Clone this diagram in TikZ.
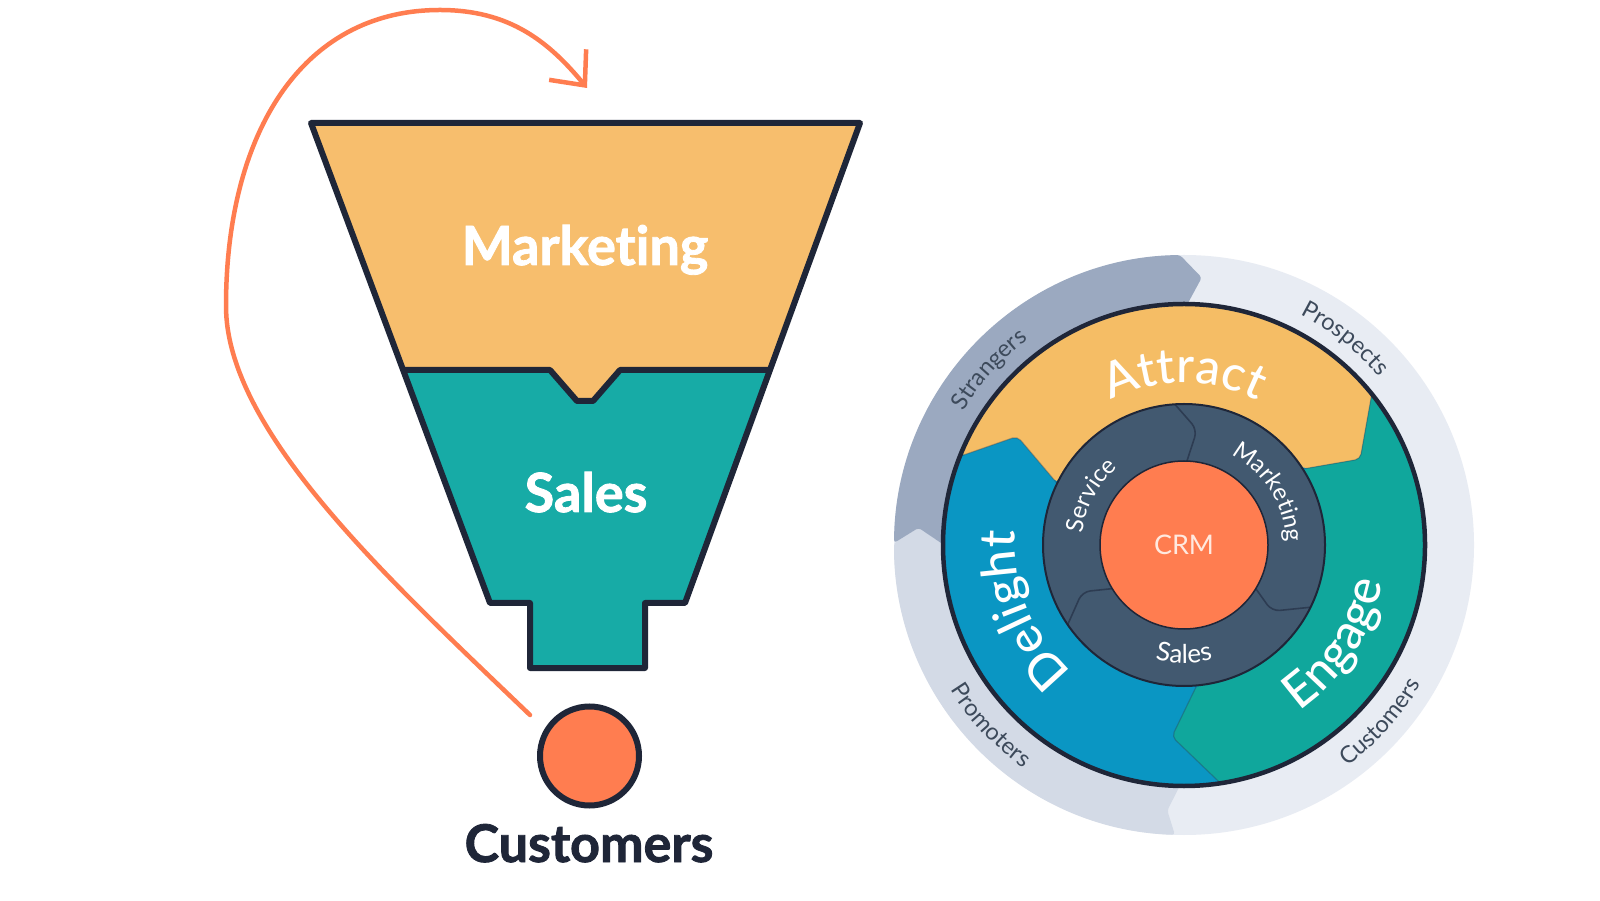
\documentclass[tikz,border=0pt]{standalone}
\usepackage{fontspec}
\setmainfont{Lato}[Ligatures=NoCommon]
\newfontfamily\HeavyFont{Lato}[Ligatures=NoCommon,BoldFeatures={FakeBold=1.6}]
\IfFontExistsTF{Lato Medium}{\newfontfamily\MedFont{Lato Medium}}{\newcommand\MedFont{\mdseries}}
\usetikzlibrary{arrows.meta,decorations.text}

\definecolor{outl}{HTML}{1F2638}
\definecolor{fyellow}{HTML}{F7BE6D}
\definecolor{fteal}{HTML}{17ABA6}
\definecolor{attractc}{HTML}{F5BD65}
\definecolor{engagec}{HTML}{10A79C}
\definecolor{delightc}{HTML}{0A96C3}
\definecolor{orangec}{HTML}{FF7D50}
\definecolor{slatec}{HTML}{425970}
\definecolor{ringdark}{HTML}{9BA9C0}
\definecolor{ringmid}{HTML}{D3DAE6}
\definecolor{ringlight}{HTML}{E8ECF3}
\definecolor{ringtext}{HTML}{3D4A5B}
\definecolor{crmtext}{HTML}{FFE9DF}
\definecolor{sepc}{HTML}{2D3C52}

\newcommand\RingFont{\fontsize{23.5}{27}\selectfont\color{ringtext}}
\newcommand\InFont{\fontsize{24}{28}\selectfont\color{white}}
\newcommand\SalesFont{\fontsize{26}{30}\selectfont\color{white}}
\newcommand\BigFont{\MedFont\fontsize{49}{55}\selectfont\color{white}}

\begin{document}
\begin{tikzpicture}[x=1pt,y=1pt,
  funnelline/.style={draw=outl,line width=6pt,line join=round},
  funtext/.style={text=white,font=\HeavyFont\bfseries\fontsize{54}{58}\selectfont,anchor=base,inner sep=0},
  arrowline/.style={draw=orangec,line width=4.5pt,line cap=round,
     -{Straight Barb[length=27pt,width=48pt]}},
  seg/.style={draw=sepc,draw opacity=0.35,line width=1.2pt,line join=round},
  inseg/.style={draw=sepc,line width=1.6pt,rounded corners=8pt}]
\useasboundingbox (0,0) rectangle (1600,900);
\fill[white] (0,0) rectangle (1600,900);

% ---------------- funnel ----------------
\fill[fyellow] (311,777) -- (860,777) -- (770,530) -- (620,530) -- (593,499) -- (577,499) -- (550,530) -- (403,530) -- cycle;
\fill[fteal] (403,530) -- (550,530) -- (577,499) -- (593,499) -- (620,530) -- (770,530) -- (685,297) -- (645,297) -- (645,232) -- (530,232) -- (530,297) -- (490,297) -- cycle;
\draw[funnelline] (311,777) -- (860,777) -- (685,297) -- (645,297) -- (645,232) -- (530,232) -- (530,297) -- (490,297) -- cycle;
\draw[funnelline] (403,530) -- (550,530) -- (577,499) -- (593,499) -- (620,530) -- (770,530);
\node[funtext] (mkt) at (585,635) {Marketing};
\node[funtext] (sales) at (586,388) {Sales};

% customers
\node[circle,fill=orangec,draw=outl,line width=6pt,minimum size=99pt,inner sep=0] (custdot) at (589.5,144) {};
\node[anchor=base,inner sep=0,text=outl,font=\HeavyFont\bfseries\fontsize{52}{56}\selectfont] (custlabel) at (589,38) {Customers};

% orange loop arrow
\coordinate (arrowstart) at (530,185);
\coordinate (arrowend) at (587,812);
\draw[arrowline] (arrowstart) .. controls (386,323) and (226,470) .. (226,594)
   .. controls (226,764) and (300,890) .. (440,890)
   .. controls (510,890) and (549,858) .. (arrowend);

% ---------------- flywheel ----------------
\begin{scope}[shift={(1184,355)}]
% outer grey ring
\fill[ringlight] (0,0) circle[radius=290];
\fill[ringmid,rounded corners=3pt] (268.2:290) arc[start angle=268.2,end angle=179.6,radius=290]
   -- (176.3:266) -- (180:240) arc[start angle=180,end angle=269.1,radius=240] -- (266.4:266) -- cycle;
\fill[ringdark,rounded corners=3pt] (179.6:290) arc[start angle=179.6,end angle=90.8,radius=290]
   -- (86.2:268) -- (89.3:240) arc[start angle=89.3,end angle=180,radius=240] -- (176.3:266) -- cycle;

% coloured wheel
\fill[delightc] (0,0) circle[radius=241];
\fill[attractc,rounded corners=5pt] (158.4:241) arc[start angle=158.4,end angle=38.8,radius=241]
   -- (26:196) -- (32.6:141) arc[start angle=32.6,end angle=154.1,radius=141] -- (146.9:199) -- cycle;
\fill[engagec,rounded corners=5pt] (38.8:241) arc[start angle=38.8,end angle=-81.3,radius=241]
   -- (-93.6:192) -- (-84.8:141) arc[start angle=-84.8,end angle=32.6,radius=141] -- (26:196) -- cycle;
\draw[seg,rounded corners=5pt] (158.4:241) -- (146.9:199) -- (154.1:141);
\draw[seg,rounded corners=5pt] (38.8:241) -- (26:196) -- (32.6:141);
\draw[seg,rounded corners=5pt] (-81.3:241) -- (-93.6:192) -- (-84.8:141);
\draw[draw=outl,line width=4.5pt] (0,0) circle[radius=241];

% inner slate ring
\fill[slatec] (0,0) circle[radius=141];
\draw[inseg] (93.7:141) -- (83.5:116) -- (88:84);
\draw[inseg] (214.4:141) -- (204.7:112) -- (211.3:84);
\draw[inseg] (-26.2:141) -- (-37:110) -- (-31.3:84);
\draw[draw=outl,line width=2pt] (0,0) circle[radius=141];
\node[circle,fill=orangec,draw=outl,line width=1.5pt,minimum size=168pt,inner sep=0,
      text=crmtext,font=\fontsize{27}{30}\selectfont] (crm) at (0,0) {CRM};

% ring labels
\path[decorate,decoration={text along path,text align=center,text={|\RingFont|Strangers}}]
   (168:258) arc[start angle=168,end angle=108,radius=258];
\path[decorate,decoration={text along path,text align=center,text={|\RingFont|Prospects}}]
   (82:258) arc[start angle=82,end angle=22,radius=258];
\path[decorate,decoration={text along path,text align=center,text={|\RingFont|Customers}}]
   (-72:275) arc[start angle=-72,end angle=-12,radius=275];
\path[decorate,decoration={text along path,text align=center,text={|\RingFont|Promoters}}]
   (193:275) arc[start angle=193,end angle=253,radius=275];

% big labels
\path[decorate,decoration={text along path,text align=center,text={|\BigFont|Attract}}]
   (150:162) arc[start angle=150,end angle=30,radius=162];
\path[decorate,decoration={text along path,text align=center,text={|\BigFont|Engage}}]
   (-93:202) arc[start angle=-93,end angle=27,radius=202];
\path[decorate,decoration={text along path,text align=center,text={|\BigFont|Delight}}]
   (262:169) arc[start angle=262,end angle=142,radius=169];

% inner labels
\path[decorate,decoration={text along path,text align=center,text={|\InFont|Service}}]
   (212:102) arc[start angle=212,end angle=92,radius=102];
\path[decorate,decoration={text along path,text align=center,text={|\InFont|Marketing}}]
   (92:102) arc[start angle=92,end angle=-28,radius=102];
\path[decorate,decoration={text along path,text align=center,text={|\SalesFont|Sales}}]
   (220:118) arc[start angle=220,end angle=320,radius=118];
\end{scope}
\end{tikzpicture}
\end{document}
